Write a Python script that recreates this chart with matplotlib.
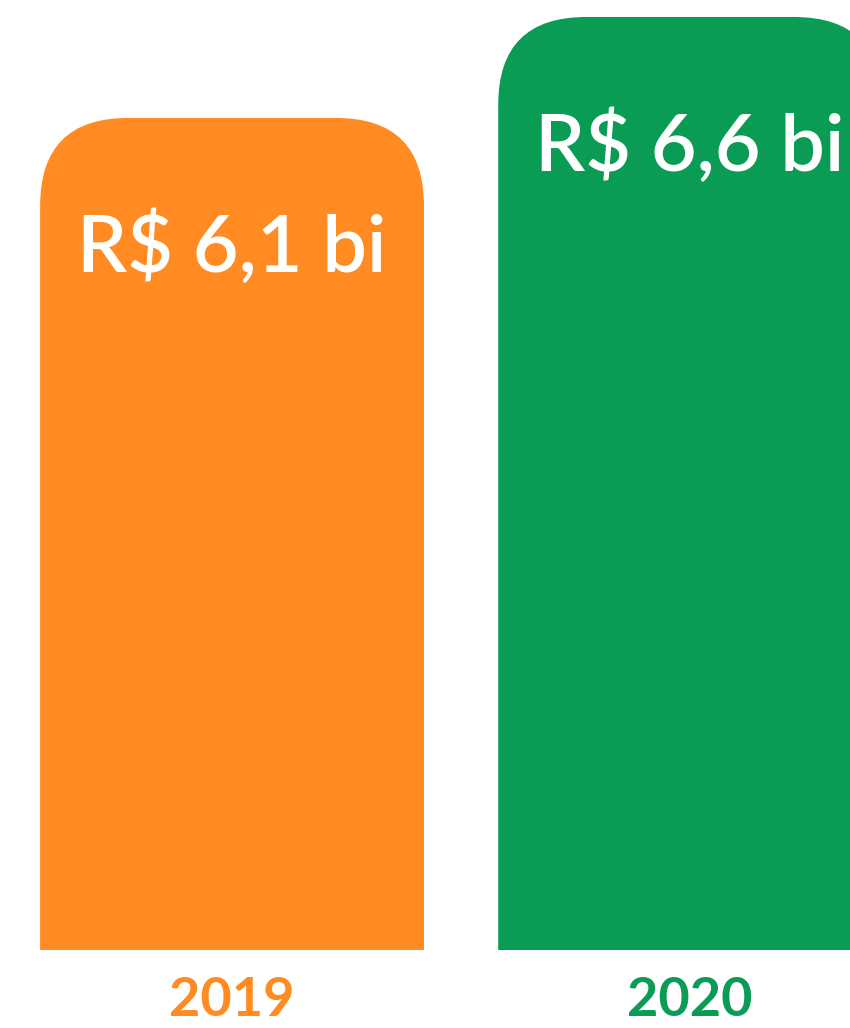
import matplotlib
matplotlib.use("Agg")
import matplotlib.pyplot as plt
from matplotlib.patches import FancyBboxPatch

# dados
anos = ["2019", "2020"]
valores = [6.1, 6.6]
rotulos = ["R$ 6,1 bi", "R$ 6,6 bi"]
cores = ["#FF8B22", "#0A9C55"]

fig = plt.figure(figsize=(8.5, 10.28), dpi=100)
ax = fig.add_axes([0, 78 / 1028, 1, 950 / 1028])
ax.set_xlim(-0.5066, 1.349)
ax.set_ylim(1.98, 6.684)

barras = ax.bar(range(len(anos)), valores, width=0.838, color=cores)

# escala em pixels para arredondar os cantos
p0 = ax.transData.transform((0, 0))
p1 = ax.transData.transform((1, 1))
px_x = p1[0] - p0[0]
px_y = p1[1] - p0[1]
raio = 88 / px_x

for b, cor in zip(barras, cores):
    x, y = b.get_x(), b.get_y()
    w, h = b.get_width(), b.get_height()
    b.remove()
    ax.add_patch(FancyBboxPatch((x, y), w, h,
                                boxstyle=f"round,pad=0,rounding_size={raio}",
                                mutation_aspect=px_x / px_y,
                                facecolor=cor, edgecolor="none"))

for i, (v, r) in enumerate(zip(valores, rotulos)):
    ax.annotate(r, xy=(i, v), xytext=(0, -154), textcoords="offset pixels",
                ha="center", va="baseline", fontsize=57, color="white",
                fontfamily="Lato", fontweight="semibold")

ax.set_xticks(range(len(anos)))
ax.set_xticklabels(anos, fontsize=39, fontfamily="Lato", fontweight="bold")
for lbl, cor in zip(ax.get_xticklabels(), cores):
    lbl.set_color(cor)
ax.tick_params(axis="x", length=0, pad=19)
ax.set_yticks([])
for s in ax.spines.values():
    s.set_visible(False)

fig.savefig("out.png", dpi=100)
